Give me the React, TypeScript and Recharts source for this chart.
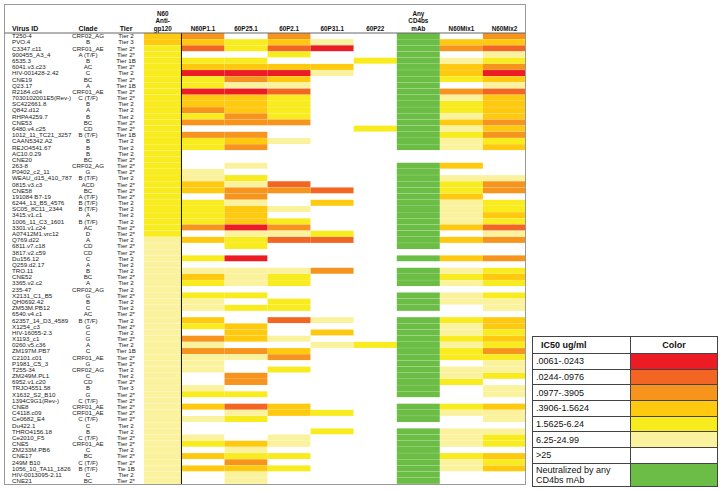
import { Bar, BarChart, Cell, ReferenceLine, XAxis, YAxis } from "recharts";

const viruses = [
  "T250-4", "PVO.4", "C3347.c11", "900455_A3_4", "6535.3", "6041.v3.c23", "HIV-001428-2.42", "CNE19",
  "Q23.17", "R2184.c04", "7030102001E5(Rev-)", "SC422661.8", "Q842.d12", "RHPA4259.7", "CNE53", "6480.v4.c25",
  "1012_11_TC21_3257", "CAAN5342.A2", "REJO4541.67", "AC10.0.29", "CNE20", "263-8", "P0402_c2_11",
  "WEAU_d15_410_787", "0815.v3.c3", "CNE58", "191084 B7-19", "6244_13_B5_4576", "SC05_8C11_2344", "3415.v1.c1",
  "1006_11_C3_1601", "3301.v1.c24", "A07412M1.vrc12", "Q769.d22", "6811.v7.c18", "3817.v2.c59", "Du156.12",
  "Q259.d2.17", "TRO.11", "CNE52", "3365.v2.c2", "235-47", "X2131_C1_B5", "QH0692.42", "ZM53M.PB12",
  "6540.v4.c1", "62357_14_D3_4589", "X1254_c3", "HIV-16055-2.3", "X1193_c1", "0260.v5.c36", "ZM197M.PB7",
  "C2101.c01", "P1981_C5_3", "T255-34", "ZM249M.PL1", "6952.v1.c20", "TRJO4551.58", "X1632_S2_B10",
  "1394C9G1(Rev-)", "CNE8", "C4118.c09", "Ce0682_E4", "Du422.1", "THRO4156.18", "Ce2010_F5", "CNE5",
  "ZM233M.PB6", "CNE17", "249M B10", "1056_10_TA11_1826", "HIV-0013095-2.11", "CNE21",
];

const clades = [
  "CRF02_AG", "B", "CRF01_AE", "A (T/F)", "B", "AC", "C", "BC", "A", "CRF01_AE", "C (T/F)", "B", "A", "B", "BC", "CD",
  "B (T/F)", "B", "B", "B", "BC", "CRF02_AG", "G", "B (T/F)", "ACD", "BC", "A (T/F)", "B (T/F)", "B (T/F)", "A",
  "B (T/F)", "AC", "D", "A", "CD", "CD", "C", "A", "B", "BC", "A", "CRF02_AG", "G", "B", "C", "AC", "B (T/F)", "G",
  "C", "G", "A", "C", "CRF01_AE", "G", "CRF02_AG", "C", "CD", "B", "G", "C (T/F)", "CRF01_AE", "CRF01_AE", "C (T/F)",
  "C", "B", "C (T/F)", "CRF01_AE", "C", "BC", "C (T/F)", "B (T/F)", "C", "BC",
];

const tiers = [
  "Tier 2", "Tier 3", "Tier 2*", "Tier 2*", "Tier 1B", "Tier 2*", "Tier 2", "Tier 2*", "Tier 1B", "Tier 2*",
  "Tier 2*", "Tier 2", "Tier 2", "Tier 2", "Tier 2*", "Tier 2*", "Tier 1B", "Tier 2", "Tier 2", "Tier 2",
  "Tier 2*", "Tier 2*", "Tier 2*", "Tier 2", "Tier 2*", "Tier 2*", "Tier 2*", "Tier 2", "Tier 2", "Tier 2",
  "Tier 2", "Tier 2*", "Tier 2*", "Tier 2", "Tier 2*", "Tier 2*", "Tier 2", "Tier 2", "Tier 2", "Tier 2*",
  "Tier 2", "Tier 2", "Tier 2*", "Tier 2", "Tier 2", "Tier 2*", "Tier 2", "Tier 2*", "Tier 2", "Tier 2*",
  "Tier 2", "Tier 1B", "Tier 2*", "Tier 2*", "Tier 2", "Tier 2", "Tier 2*", "Tier 3", "Tier 2*", "Tier 2*",
  "Tier 2*", "Tier 2*", "Tier 2*", "Tier 2", "Tier 2", "Tier 2*", "Tier 2*", "Tier 2", "Tier 2*", "Tier 2*",
  "Tie 1B", "Tier 2", "Tier 2*",
];

// IC50 bins: 0 = most potent ... 5 = 6.25-24.99, 6 = >25, 7 = neutralized by any CD4bs mAb
const n60AntiGp120 = [
  3, 3, 4, 4, 4, 4, 4, 4, 4, 4, 4, 4, 4, 4, 4, 4, 4, 4, 4, 4, 4, 4, 4, 4, 4, 4, 4, 4, 4, 4, 4, 4, 4,
  5, 5, 5, 5, 5, 5, 5, 5, 5, 5, 5, 5, 5, 5, 5, 5, 5, 5, 5, 5, 5, 5, 5, 5, 5, 5, 5, 5, 5, 5, 5, 5, 5, 5, 5, 5, 5, 5, 5, 5,
];
const n60P11 = [
  2, 3, 1, 6, 4, 3, 0, 4, 4, 0, 3, 3, 2, 4, 2, 6, 2, 4, 4, 6, 6, 6, 5, 5, 3, 3, 6, 4, 4, 4, 4, 2, 6, 3, 6, 6, 4,
  6, 5, 3, 4, 6, 4, 5, 5, 6, 3, 4, 6, 2, 5, 2, 5, 5, 5, 6, 6, 5, 4, 6, 3, 6, 5, 6, 6, 5, 4, 6, 3, 6, 3, 6, 6,
];
const p251 = [
  6, 4, 4, 6, 4, 3, 0, 2, 5, 0, 3, 3, 3, 2, 2, 6, 2, 3, 2, 6, 6, 5, 6, 4, 5, 2, 2, 5, 3, 3, 3, 0, 5, 4, 4, 6, 0,
  6, 5, 5, 5, 6, 4, 6, 4, 6, 6, 3, 3, 3, 6, 2, 5, 6, 6, 2, 2, 6, 4, 6, 1, 5, 4, 6, 6, 6, 3, 5, 4, 2, 3, 5, 5,
];
const p21 = [
  2, 3, 1, 4, 6, 3, 0, 3, 5, 1, 4, 4, 4, 4, 2, 6, 6, 5, 6, 6, 6, 6, 6, 6, 1, 2, 6, 6, 5, 6, 4, 2, 5, 1, 6, 6, 6,
  6, 5, 4, 4, 6, 6, 4, 4, 6, 1, 6, 6, 5, 6, 3, 2, 6, 4, 6, 6, 6, 6, 6, 3, 3, 6, 6, 6, 5, 5, 6, 4, 6, 4, 6, 6,
];
const p311 = [
  6, 5, 0, 6, 6, 3, 5, 6, 6, 6, 6, 6, 6, 6, 6, 6, 6, 6, 6, 6, 6, 6, 6, 6, 6, 1, 6, 3, 6, 6, 6, 6, 4, 1, 6, 6, 6,
  6, 2, 6, 6, 6, 6, 6, 6, 6, 5, 6, 3, 6, 5, 6, 6, 6, 6, 6, 6, 6, 6, 6, 6, 4, 6, 6, 4, 6, 6, 6, 6, 6, 6, 6, 6,
];
const p22 = [
  6, 6, 6, 6, 4, 6, 6, 6, 6, 6, 6, 6, 6, 6, 6, 4, 6, 6, 6, 6, 6, 6, 6, 6, 6, 6, 6, 6, 6, 6, 6, 6, 6, 6, 6, 6, 6,
  6, 6, 6, 6, 6, 6, 6, 6, 6, 6, 6, 6, 6, 4, 6, 6, 6, 6, 6, 6, 6, 6, 6, 6, 6, 6, 6, 6, 6, 6, 6, 6, 6, 6, 6, 6,
];
const anyCd4bs = [
  7, 7, 7, 7, 7, 7, 7, 7, 7, 7, 7, 7, 7, 7, 7, 7, 7, 7, 7, 6, 6, 7, 7, 7, 7, 7, 7, 7, 7, 7, 7, 7, 7, 7, 7, 6, 7,
  6, 7, 7, 7, 6, 7, 7, 7, 6, 7, 7, 7, 7, 7, 7, 7, 7, 7, 7, 7, 7, 7, 6, 7, 7, 7, 6, 7, 7, 7, 7, 7, 7, 7, 7, 7,
];
const n60Mix1 = [
  6, 3, 2, 6, 5, 3, 3, 4, 6, 2, 5, 4, 4, 5, 3, 5, 4, 5, 5, 6, 6, 3, 6, 5, 4, 4, 3, 5, 5, 5, 5, 3, 6, 3, 6, 6, 3,
  6, 5, 4, 5, 6, 5, 5, 6, 6, 4, 5, 5, 4, 5, 4, 4, 6, 5, 5, 4, 6, 6, 6, 4, 5, 6, 6, 5, 5, 5, 6, 4, 5, 5, 6, 6,
];
const n60Mix2 = [
  2, 3, 1, 5, 4, 2, 0, 3, 5, 1, 3, 3, 3, 3, 2, 3, 2, 4, 3, 6, 6, 6, 6, 5, 2, 2, 6, 4, 4, 3, 4, 1, 5, 2, 6, 6, 2,
  6, 4, 3, 4, 6, 4, 5, 5, 6, 3, 3, 4, 3, 4, 2, 4, 5, 5, 4, 6, 5, 5, 6, 3, 5, 5, 6, 5, 4, 4, 6, 3, 4, 3, 6, 6,
];

const columnHeaders = [
  ["N60", "Anti-", "gp120"], ["N60P1.1"], ["60P25.1"], ["60P2.1"], ["60P31.1"], ["60P22"],
  ["Any", "CD4bs", "mAb"], ["N60Mix1"], ["N60Mix2"],
];
const columnLevels = [n60AntiGp120, n60P11, p251, p21, p311, p22, anyCd4bs, n60Mix1, n60Mix2];
const columnSpans = [0.87, 1, 1, 1, 1, 1, 1, 1, 1];

const levelColors = ["#ED1C24", "#F26522", "#F7941D", "#FFC90F", "#F8EB1E", "#FBF29D", "#FFFFFF", "#6BBD45"];
const legendLabels = [
  ".0061-.0243", ".0244-.0976", ".0977-.3905", ".3906-1.5624", "1.5625-6.24", "6.25-24.99", ">25",
  "Neutralized by any CD4bs mAb",
];

const font = "'Liberation Sans', Arial, sans-serif";
const totalSpan = columnSpans.reduce((a, b) => a + b, 0);
const columnCenters = columnSpans.map((s, i) => columnSpans.slice(0, i).reduce((a, b) => a + b, 0) + s / 2);
const rows = viruses.map((virus, i) => {
  const row: Record<string, string | number> = { virus, idx: i };
  columnSpans.forEach((s, j) => (row[`c${j}`] = s));
  return row;
});

// fill the whole row band so neighbouring rows meet without hairline gaps
function HeatCell(props: any) {
  const { x, y, width, height, fill, background } = props;
  const top = background && Number.isFinite(background.y) ? background.y : y;
  const h = background && Number.isFinite(background.height) ? background.height : height + 0.4;
  return <rect x={x} y={top} width={width} height={h} fill={fill} />;
}

function RowTick({ y, payload, index }: any) {
  const i = typeof index === "number" ? index : viruses.indexOf(payload.value);
  return (
    <g fontFamily={font} fontSize={6.2} fill="#222">
      <text x={12} y={y} dy="0.36em">{viruses[i]}</text>
      <text x={88} y={y} dy="0.36em" textAnchor="middle">{clades[i]}</text>
      <text x={126} y={y} dy="0.36em" textAnchor="middle">{tiers[i]}</text>
    </g>
  );
}

function HeaderTick({ x, index, payload }: any) {
  const i = typeof index === "number" ? index : columnCenters.indexOf(payload.value);
  const lines = columnHeaders[i] || [];
  return (
    <text x={x} textAnchor="middle" fontFamily={font} fontSize={6.3} fontWeight="bold" fill="#111">
      {lines.map((l, k) => (
        <tspan key={k} x={x} y={30.5 - (lines.length - 1 - k) * 7.3}>{l}</tspan>
      ))}
    </text>
  );
}

function IcLegend() {
  const cell = { border: "1px solid #444", padding: "0 0 0 3px", fontSize: 9, lineHeight: "10px" } as const;
  return (
    <table
      style={{
        position: "absolute", left: 532, top: 336, width: 186, borderCollapse: "collapse",
        fontFamily: font, color: "#111", tableLayout: "fixed",
      }}
    >
      <tbody>
        <tr style={{ height: 17 }}>
          <td style={{ ...cell, fontWeight: "bold", width: 89, paddingLeft: 8 }}>IC50 ug/ml</td>
          <td style={{ ...cell, fontWeight: "bold", textAlign: "center", padding: 0 }}>Color</td>
        </tr>
        {legendLabels.map((label, i) => (
          <tr key={label} style={{ height: i === legendLabels.length - 1 ? 23 : 15.7 }}>
            <td style={cell}>{label}</td>
            <td style={{ ...cell, background: levelColors[i] }} />
          </tr>
        ))}
      </tbody>
    </table>
  );
}

export default function App() {
  return (
    <div style={{ position: "absolute", left: 0, top: 0, width: 722, height: 490, background: "#fff" }}>
      <BarChart
        width={530}
        height={490}
        data={rows}
        layout="vertical"
        barCategoryGap={0}
        barGap={0}
        margin={{ top: 0, right: 4, bottom: 6, left: 0 }}
      >
        <XAxis
          type="number"
          orientation="top"
          domain={[0, totalSpan]}
          ticks={columnCenters}
          interval={0}
          height={33}
          axisLine={false}
          tickLine={false}
          tick={<HeaderTick />}
        />
        <YAxis
          type="category"
          dataKey="virus"
          width={144}
          interval={0}
          axisLine={false}
          tickLine={false}
          tick={<RowTick />}
        />
        {columnLevels.map((levels, j) => (
          <Bar key={j} dataKey={`c${j}`} stackId="grid" isAnimationActive={false} shape={<HeatCell />}>
            {levels.map((lv, i) => (
              <Cell key={i} fill={levelColors[lv]} />
            ))}
          </Bar>
        ))}
        <ReferenceLine x={columnSpans[0]} stroke="#111" strokeWidth={1} />
      </BarChart>
      <svg
        width={722}
        height={490}
        style={{ position: "absolute", left: 0, top: 0, pointerEvents: "none" }}
        fontFamily={font}
      >
        <rect x={4.5} y={4.5} width={521} height={480} fill="none" stroke="#999" strokeWidth={1} />
        <line x1={4.5} x2={525.5} y1={33} y2={33} stroke="#666" strokeWidth={1} />
        <g fontSize={7} fontWeight="bold" fill="#111">
          <text x={12} y={30.5}>Virus ID</text>
          <text x={88} y={30.5} textAnchor="middle">Clade</text>
          <text x={126} y={30.5} textAnchor="middle">Tier</text>
        </g>
      </svg>
      <IcLegend />
    </div>
  );
}
